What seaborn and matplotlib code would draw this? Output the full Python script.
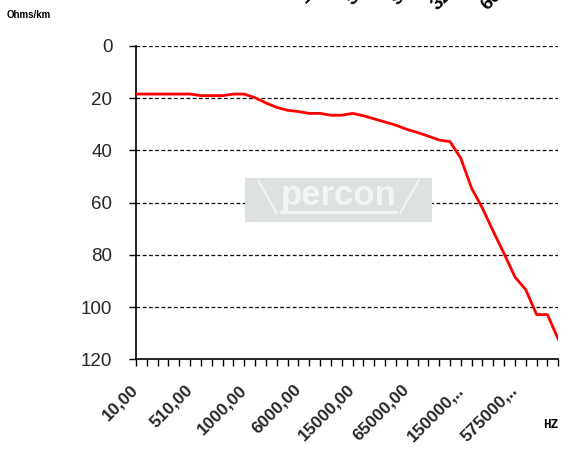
import matplotlib
matplotlib.use("Agg")
import matplotlib.pyplot as plt
import seaborn as sns
import pandas as pd
from matplotlib.patches import Rectangle

freq_labels = ["10,00", "110,00", "210,00", "310,00", "410,00", "510,00", "610,00", "710,00",
               "810,00", "910,00", "1000,00", "2000,00", "3000,00", "4000,00", "5000,00",
               "6000,00", "7000,00", "8000,00", "9000,00", "10000,00", "15000,00", "25000,00",
               "35000,00", "45000,00", "55000,00", "65000,00", "75000,00", "85000,00",
               "100000,00", "125000,00", "150000,…", "200000,…", "300000,…", "400000,…",
               "500000,…", "575000,…", "650000,…", "750000,…", "850000,…", "1000000,…"]
ohms = [18.4, 18.4, 18.4, 18.4, 18.4, 18.4, 19.0, 19.0, 19.0, 18.4,
        18.4, 19.8, 21.8, 23.5, 24.6, 25.1, 25.8, 25.8, 26.5, 26.5,
        25.8, 26.7, 27.9, 29.1, 30.3, 31.9, 33.1, 34.5, 36.0, 36.6,
        43.0, 54.5, 62.1, 71.0, 79.5, 88.4, 93.3, 102.8, 102.8, 112.3]
shown_labels = {0: "10,00", 5: "510,00", 10: "1000,00", 15: "6000,00", 20: "15000,00",
                25: "65000,00", 30: "150000,..", 35: "575000,.."}
y_ticks = [0, 20, 40, 60, 80, 100, 120]
top_cut_labels = ["1000,00", "5000,00", "9000,00", "32000,00", "60000,00"]

sns.set_theme(style="white")
plt.rcParams['font.family'] = ['Liberation Sans', 'DejaVu Sans']

df = pd.DataFrame({"freq": freq_labels, "ohms": ohms})

fig = plt.figure(figsize=(5.79, 4.59), dpi=100)
ax = fig.add_axes([0.2349, 0.2168, 0.9642 - 0.2349, 0.8998 - 0.2168])

# watermark
wx0, wx1 = 245 / 579, 432 / 579
wy0, wy1 = 1 - 222 / 459, 1 - 178 / 459
ww, wh = wx1 - wx0, wy1 - wy0
wm_white = "#f4f6f6"
fig.patches.append(Rectangle((wx0, wy0), ww, wh, transform=fig.transFigure,
                             facecolor="#dde1e1", edgecolor="none", zorder=0))
fig.text(wx0 + 0.5 * ww, wy0 + 0.60 * wh, "percon", ha="center", va="center",
         fontsize=25, fontweight="bold", color=wm_white, zorder=0.5)
fig.lines.append(plt.Line2D([wx0 + 0.19 * ww, wx1 - 0.19 * ww], [wy0 + 0.22 * wh] * 2,
                            transform=fig.transFigure, color=wm_white, lw=2.5, zorder=0.5))
fig.lines.append(plt.Line2D([wx0 + 0.07 * ww, wx0 + 0.17 * ww], [wy1 - 0.05 * wh, wy0 + 0.2 * wh],
                            transform=fig.transFigure, color=wm_white, lw=1.5, zorder=0.5))
fig.lines.append(plt.Line2D([wx1 - 0.07 * ww, wx1 - 0.17 * ww], [wy1 - 0.05 * wh, wy0 + 0.2 * wh],
                            transform=fig.transFigure, color=wm_white, lw=1.5, zorder=0.5))
ax.patch.set_alpha(0)

sns.lineplot(data=df, x="freq", y="ohms", sort=False, color="#ff0000", linewidth=2.0,
             ax=ax, zorder=3)

ax.set_xlim(0, len(freq_labels) - 1)
ax.set_ylim(120, 0)
ax.set_yticks(y_ticks)
ax.set_yticklabels([str(v) for v in y_ticks], fontsize=13.5)
ax.set_xticks(range(len(freq_labels)))
ax.set_xticklabels([shown_labels.get(i, "") for i in range(len(freq_labels))],
                   rotation=45, ha="right", va="center", rotation_mode="anchor",
                   fontsize=12.5, fontweight="bold")
ax.tick_params(axis="x", bottom=True, direction="out", length=5, width=1, color="black", pad=15)
ax.tick_params(axis="y", left=True, direction="out", length=5, width=1, color="black", pad=12)
ax.set_xlabel("")
ax.set_ylabel("")
for y in y_ticks[:-1]:
    ax.axhline(y, color="black", lw=0.9, ls=(0, (3, 2)), zorder=1)
for s in ["top", "right"]:
    ax.spines[s].set_visible(False)
for s in ["left", "bottom"]:
    ax.spines[s].set_color("black")
    ax.spines[s].set_linewidth(1.2)

fig.text(7 / 579, 1 - 15 / 459, "Ohms/km", fontsize=7, fontweight="bold", ha="left",
         va="center", color="black")
fig.text(543 / 579, 1 - 425 / 459, "HZ", fontsize=9, fontweight="bold", ha="left",
         va="center", color="black", family="DejaVu Sans Mono")

top_x = [308, 355, 400, 440, 490]
top_y = [7, 9, 9, 14, 14]
for lbl, px, py in zip(top_cut_labels, top_x, top_y):
    fig.text(px / 579, 1 - py / 459, lbl, rotation=45, rotation_mode="anchor",
             ha="left", va="bottom", fontsize=14, fontweight="bold", color="black")

fig.savefig("out.png", dpi=100)
